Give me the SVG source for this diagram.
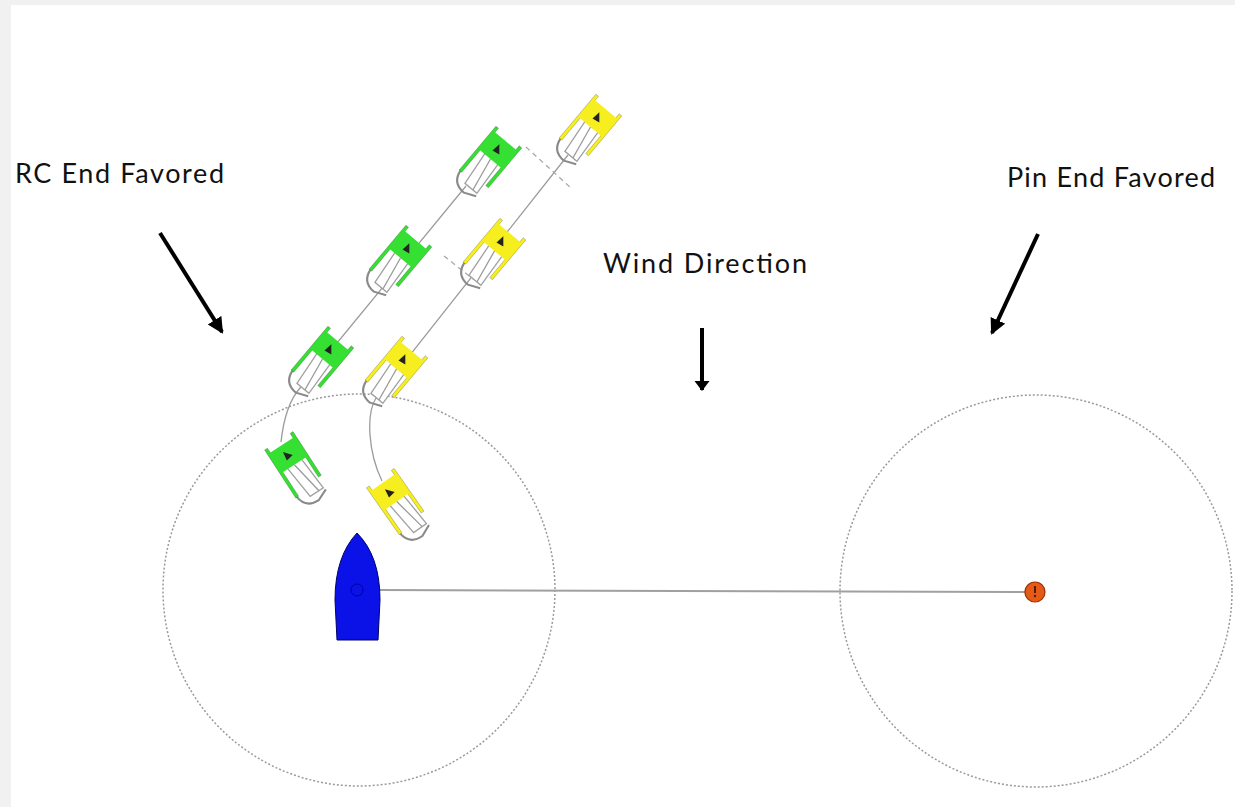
<svg xmlns="http://www.w3.org/2000/svg" xmlns:xlink="http://www.w3.org/1999/xlink" width="1235" height="807" viewBox="0 0 1235 807">
  <style>
    .label { font-family: Lato, "Open Sans", "Liberation Sans", sans-serif; font-size: 27px; fill: #111; }
    .zone { fill: none; stroke: #9a9a9a; stroke-width: 1.5; stroke-dasharray: 2 2; }
    .track { fill: none; stroke: #9c9c9c; stroke-width: 1.3; }
    .overlap { fill: none; stroke: #a8a8a8; stroke-width: 1.3; stroke-dasharray: 5 4; }
    .pointer { stroke: #000; stroke-width: 4; fill: none; }
  </style>
  <defs>
    <marker id="head" markerUnits="userSpaceOnUse" markerWidth="20" markerHeight="20" refX="14" refY="8" orient="auto">
      <path d="M 0 0 L 16 8 L 0 16 Z" fill="#000"/>
    </marker>
    <marker id="headSmall" markerUnits="userSpaceOnUse" markerWidth="16" markerHeight="16" refX="9" refY="8" orient="auto">
      <path d="M 0 0.5 L 10 8 L 0 15.5 Z" fill="#000"/>
    </marker>
    <!-- dinghy seen from above, bow pointing to -y, coloured with currentColor -->
    <g id="boat">
      <path d="M -6 8 L 7 8 L 9 36 L -3 36 Z" fill="#fff" stroke="#a0a0a0" stroke-width="1"/>
      <path d="M -12 30 Q -11 42 1 42 L 10 38" fill="none" stroke="#8a8a8a" stroke-width="1.6"/>
      <rect x="-13" y="-13" width="2.6" height="44" fill="currentColor" stroke="#000" stroke-opacity="0.25" stroke-width="0.6"/>
      <rect x="10.4" y="-13" width="2.6" height="40" fill="currentColor" stroke="#000" stroke-opacity="0.25" stroke-width="0.6"/>
      <rect x="-12" y="-9" width="24" height="18" fill="currentColor"/>
      <path d="M -2 -4 L 3 2 L -3 3 Z" fill="#222"/>
      <line x1="0" y1="9" x2="5" y2="36" stroke="#9a9a9a" stroke-width="1"/>
    </g>
  </defs>

  <!-- page -->
  <rect width="1235" height="807" fill="#f1f1f1"/>
  <rect x="11" y="5" width="1224" height="802" fill="#fff"/>

  <!-- zones around the ends of the start line -->
  <g id="zones">
    <circle id="zone-rc" class="zone" cx="359" cy="590" r="196"/>
    <circle id="zone-pin" class="zone" cx="1036" cy="591" r="196"/>
  </g>

  <!-- connectors: start line, boat tracks, overlap lines, pointers -->
  <g id="connectors">
    <line id="start-line" x1="378" y1="590" x2="1030" y2="592" stroke="#a0a0a0" stroke-width="2"/>
    <path id="track-green" class="track" d="M 281 442 Q 285 405 300 388 L 466 186"/>
    <path id="track-yellow" class="track" d="M 382 481 C 368 452 366 414 376 398 L 568 155"/>
    <line class="overlap" x1="526" y1="147" x2="571" y2="188"/>
    <line class="overlap" x1="444" y1="256" x2="473" y2="279"/>
    <line id="arrow-rc" class="pointer" x1="160" y1="233" x2="222" y2="332" marker-end="url(#head)"/>
    <line id="arrow-pin" class="pointer" x1="1038" y1="234" x2="992" y2="333" marker-end="url(#head)"/>
    <line id="arrow-wind" class="pointer" x1="702" y1="328" x2="702" y2="390" marker-end="url(#headSmall)"/>
  </g>

  <!-- race committee boat -->
  <g id="committee-boat">
    <path d="M 357 533 C 343 548 335 570 335 600 L 337 640 L 378 640 L 380 600 C 380 570 372 548 357 533 Z" fill="#0a12e8" stroke="#00006a" stroke-width="1"/>
    <circle cx="357" cy="590" r="6" fill="none" stroke="#0000a0" stroke-width="1"/>
  </g>

  <!-- pin end mark -->
  <g id="pin-mark">
    <circle cx="1035" cy="592" r="10" fill="#e65a18" stroke="#9a3000" stroke-width="1.2"/>
    <rect x="1034" y="586" width="2" height="7" fill="#5a1a00"/>
    <circle cx="1035" cy="596" r="1.2" fill="#5a1a00"/>
  </g>

  <!-- green boat, four positions -->
  <g id="green-boat" color="#35e032">
    <use xlink:href="#boat" transform="translate(498 150) rotate(40) scale(1.3)"/>
    <use xlink:href="#boat" transform="translate(408 249) rotate(40) scale(1.3)"/>
    <use xlink:href="#boat" transform="translate(330 350) rotate(40) scale(1.3)"/>
    <use xlink:href="#boat" transform="translate(288 455) rotate(-33) scale(1.3)"/>
  </g>

  <!-- yellow boat, four positions -->
  <g id="yellow-boat" color="#f6ee1e">
    <use xlink:href="#boat" transform="translate(598 118) rotate(40) scale(1.3)"/>
    <use xlink:href="#boat" transform="translate(502 242) rotate(40) scale(1.3)"/>
    <use xlink:href="#boat" transform="translate(404 360) rotate(40) scale(1.3)"/>
    <use xlink:href="#boat" transform="translate(390 492) rotate(-35) scale(1.3)"/>
  </g>

  <!-- labels -->
  <g id="labels">
    <text id="label-rc" class="label" x="15" y="183" textLength="209" lengthAdjust="spacing">RC End Favored</text>
    <text id="label-pin" class="label" x="1007" y="187" textLength="208" lengthAdjust="spacing">Pin End Favored</text>
    <text id="label-wind" class="label" x="603" y="273" textLength="204" lengthAdjust="spacing">Wind Direction</text>
  </g>
</svg>
